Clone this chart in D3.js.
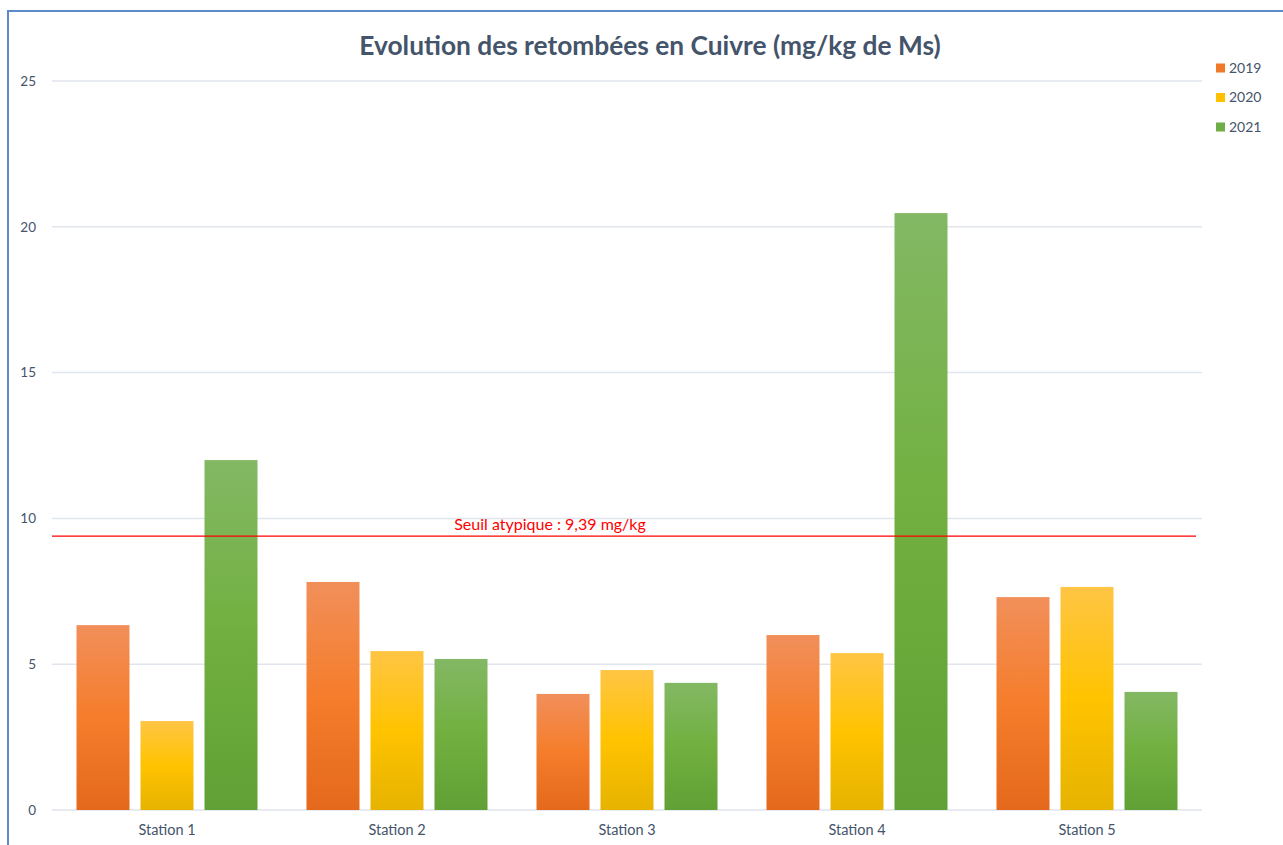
<!DOCTYPE html>
<html>
<head>
<meta charset="utf-8">
<script src="https://cdn.jsdelivr.net/npm/d3@7"></script>
<style>
  html, body { margin: 0; padding: 0; background: #fff; }
  svg { display: block; }
  text { font-family: Lato, "Open Sans", sans-serif; }
</style>
</head>
<body>
<svg id="chart" width="1283" height="845"></svg>
<script>
// Copper fallout per station and year (mg/kg dry matter)
const stations = ["Station 1", "Station 2", "Station 3", "Station 4", "Station 5"];
const years = ["2019", "2020", "2021"];
const values2019 = [6.34, 7.82, 3.98, 6.0, 7.30];
const values2020 = [3.05, 5.45, 4.80, 5.38, 7.65];
const values2021 = [12.0, 5.18, 4.36, 20.47, 4.05];
const yTicks = [0, 5, 10, 15, 20, 25];
const thresholdValue = 9.39;
const thresholdLabel = "Seuil atypique : 9,39 mg/kg";
const titleText = "Evolution des retombées en Cuivre (mg/kg de Ms)";

const seriesValues = { "2019": values2019, "2020": values2020, "2021": values2021 };

const svg = d3.select("#chart");
const plot = { left: 52, right: 1202, top: 81, bottom: 810 };

// Gradient fills: lighter at the top, base colour in the middle, darker at the bottom
const palette = {
  "2019": { top: "#f18f5a", mid: "#f57d2b", bottom: "#e5691c", swatch: "#f07a2a" },
  "2020": { top: "#ffc544", mid: "#ffc300", bottom: "#e6b300", swatch: "#ffc000" },
  "2021": { top: "#83b864", mid: "#71b03f", bottom: "#60a035", swatch: "#70ad47" }
};
const defs = svg.append("defs");
years.forEach(y => {
  const g = defs.append("linearGradient")
    .attr("id", "grad" + y)
    .attr("x1", 0).attr("y1", 0).attr("x2", 0).attr("y2", 1);
  g.append("stop").attr("offset", "0%").attr("stop-color", palette[y].top);
  g.append("stop").attr("offset", "50%").attr("stop-color", palette[y].mid);
  g.append("stop").attr("offset", "100%").attr("stop-color", palette[y].bottom);
});

// Frame around the chart area
svg.append("rect")
  .attr("x", 8).attr("y", 11)
  .attr("width", 1400).attr("height", 900)
  .attr("fill", "none")
  .attr("stroke", "#5b8bca")
  .attr("stroke-width", 2);

const y = d3.scaleLinear().domain([0, 25]).range([plot.bottom, plot.top]);
const x0 = d3.scaleBand().domain(stations).range([plot.left, plot.right]).padding(0);
const x1 = d3.scaleBand().domain(years)
  .range([24.5, x0.bandwidth() - 24.5])
  .paddingInner(0.172).paddingOuter(0);

// Horizontal gridlines
svg.append("g")
  .selectAll("line")
  .data(yTicks)
  .join("line")
  .attr("x1", plot.left).attr("x2", plot.right)
  .attr("y1", d => y(d)).attr("y2", d => y(d))
  .attr("stroke", "#e1e5ee")
  .attr("stroke-width", 1.5);

// Y axis labels
const yAxis = d3.axisLeft(y).tickValues(yTicks).tickSize(0).tickPadding(0);
svg.append("g")
  .attr("transform", "translate(36,0)")
  .call(yAxis)
  .call(g => g.select(".domain").remove())
  .call(g => g.selectAll("text")
    .attr("fill", "#44546a")
    .style("font-size", "13.5px")
    .style("font-family", "Lato, 'Open Sans', sans-serif"));

// X axis labels
const xAxis = d3.axisBottom(x0).tickSize(0).tickPadding(0);
svg.append("g")
  .attr("transform", `translate(0,${plot.bottom + 15})`)
  .call(xAxis)
  .call(g => g.select(".domain").remove())
  .call(g => g.selectAll("text")
    .attr("fill", "#44546a")
    .style("font-size", "14.5px")
    .style("font-family", "Lato, 'Open Sans', sans-serif"));

// Bars
const groups = svg.append("g")
  .selectAll("g")
  .data(stations)
  .join("g")
  .attr("transform", d => `translate(${x0(d)},0)`);

groups.selectAll("rect")
  .data((s, i) => years.map(yr => ({ year: yr, value: seriesValues[yr][i] })))
  .join("rect")
  .attr("x", d => x1(d.year))
  .attr("width", x1.bandwidth())
  .attr("y", d => y(d.value))
  .attr("height", d => y(0) - y(d.value))
  .attr("fill", d => `url(#grad${d.year})`);

// Atypical threshold line
svg.append("line")
  .attr("x1", plot.left).attr("x2", 1196)
  .attr("y1", y(thresholdValue)).attr("y2", y(thresholdValue))
  .attr("stroke", "#ff0000")
  .attr("stroke-width", 1.2);

svg.append("text")
  .attr("x", 550)
  .attr("y", y(thresholdValue) - 6)
  .attr("text-anchor", "middle")
  .attr("fill", "#ff0000")
  .style("font-size", "16px")
  .text(thresholdLabel);

// Title
svg.append("text")
  .attr("x", 650)
  .attr("y", 55)
  .attr("text-anchor", "middle")
  .attr("fill", "#44546a")
  .style("font-size", "26.3px")
  .style("font-weight", "bold")
  .text(titleText);

// Legend
const legend = svg.append("g")
  .selectAll("g")
  .data(years)
  .join("g")
  .attr("transform", (d, i) => `translate(1216,${68 + i * 29.5})`);
legend.append("rect")
  .attr("x", 0).attr("y", -4.5)
  .attr("width", 9).attr("height", 9)
  .attr("fill", d => palette[d].swatch);
legend.append("text")
  .attr("x", 13).attr("y", 0)
  .attr("dy", "0.35em")
  .attr("fill", "#44546a")
  .style("font-size", "14px")
  .text(d => d);
</script>
</body>
</html>
